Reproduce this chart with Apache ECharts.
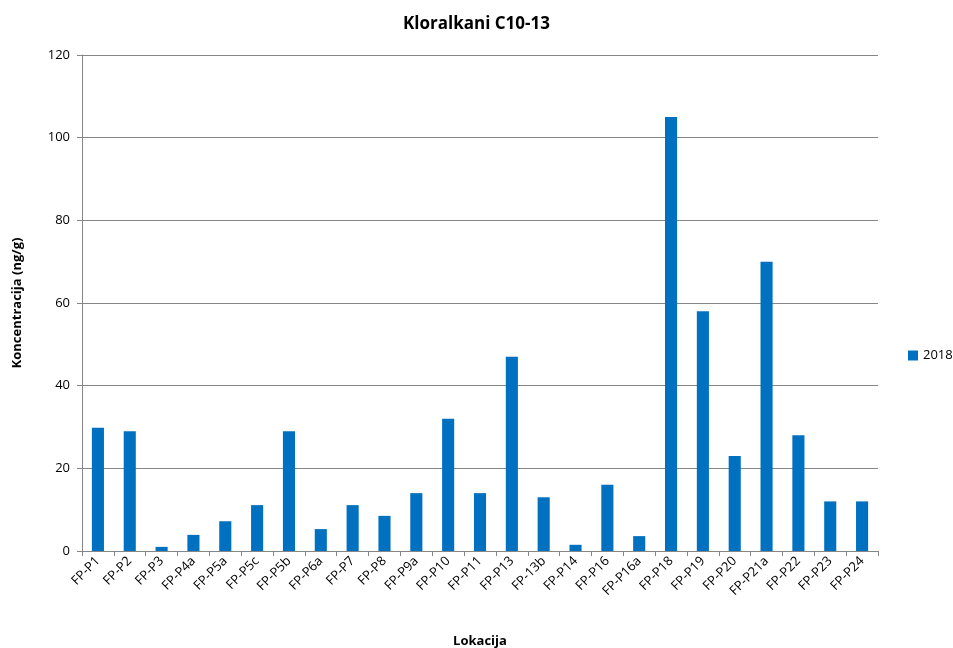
<!DOCTYPE html>
<html>
<head>
<meta charset="utf-8">
<script src="https://cdn.jsdelivr.net/npm/echarts@6/dist/echarts.min.js"></script>
<style>
  html, body { margin: 0; padding: 0; background: #fff; }
  #chart { width: 953px; height: 648px; }
</style>
</head>
<body>
<div id="chart"></div>
<script>
// lokacije i koncentracije (ng/g)
var locations = ['FP-P1', 'FP-P2', 'FP-P3', 'FP-P4a', 'FP-P5a', 'FP-P5c', 'FP-P5b', 'FP-P6a',
  'FP-P7', 'FP-P8', 'FP-P9a', 'FP-P10', 'FP-P11', 'FP-P13', 'FP-13b', 'FP-P14', 'FP-P16',
  'FP-P16a', 'FP-P18', 'FP-P19', 'FP-P20', 'FP-P21a', 'FP-P22', 'FP-P23', 'FP-P24']
var values2018 = [29.8, 29, 1, 3.9, 7.2, 11.1, 29, 5.3, 11.1, 8.5, 14, 32, 14, 47, 13, 1.5, 16,
  3.6, 105, 58, 23, 70, 28, 12, 12]
var seriesName = '2018'

var font = 'Open Sans'
var chart = echarts.init(document.getElementById('chart'))
chart.setOption({
  animation: false,
  title: {
    text: 'Kloralkani C10-13',
    left: 'center',
    top: 11,
    textStyle: { fontFamily: font, fontSize: 17, fontWeight: 'bold', color: '#000' }
  },
  legend: {
    data: [seriesName],
    orient: 'vertical',
    left: 903,
    top: 344,
    icon: 'rect',
    itemWidth: 10,
    itemHeight: 10,
    itemGap: 5,
    textStyle: { fontFamily: font, fontSize: 13, color: '#000' }
  },
  grid: { left: 82, right: 75, top: 55, bottom: 97, outerBoundsMode: 'none', containLabel: false },
  xAxis: {
    type: 'category',
    data: locations,
    name: 'Lokacija',
    nameLocation: 'middle',
    nameGap: 84,
    nameTextStyle: { fontFamily: font, fontSize: 13, fontWeight: 'bold', color: '#000' },
    axisLine: { lineStyle: { color: '#868686' } },
    axisTick: { show: true, length: 5, lineStyle: { color: '#868686' } },
    axisLabel: { rotate: 45, interval: 0, fontFamily: font, fontSize: 13, color: '#000', margin: 8 }
  },
  yAxis: {
    type: 'value',
    min: 0,
    max: 120,
    interval: 20,
    name: 'Koncentracija (ng/g)',
    nameLocation: 'middle',
    nameGap: 58,
    nameTextStyle: { fontFamily: font, fontSize: 13, fontWeight: 'bold', color: '#000' },
    axisLine: { show: true, lineStyle: { color: '#868686' } },
    axisTick: { show: true, length: 5, lineStyle: { color: '#868686' } },
    axisLabel: { fontFamily: font, fontSize: 13, color: '#000', margin: 12 },
    splitLine: { lineStyle: { color: '#868686' } }
  },
  series: [{
    name: seriesName,
    type: 'bar',
    data: values2018,
    barWidth: '38%',
    itemStyle: { color: '#0070C0' }
  }]
})
</script>
</body>
</html>
